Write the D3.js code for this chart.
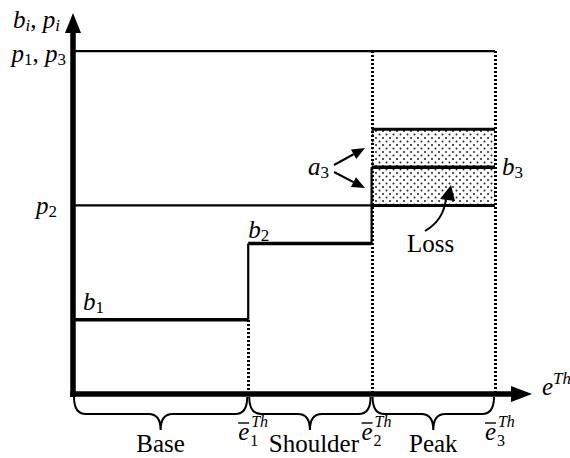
<!DOCTYPE html>
<html>
<head>
<meta charset="utf-8">
<script src="https://cdn.jsdelivr.net/npm/d3@7"></script>
<style>
  html, body { margin: 0; padding: 0; background: #fff; }
  svg { display: block; }
  text { font-family: "Liberation Serif", "Times New Roman", serif; fill: #000; }
</style>
</head>
<body>
<svg id="chart" width="570" height="458"></svg>
<script>
// ---- data ----
const categories = ["Base", "Shoulder", "Peak"];
const thresholds = [1.42, 2.42, 3.42];        // ē1, ē2, ē3 (energy thresholds)
const thresholdNames = ["1", "2", "3"];
const bids = [1.95, 3.95, 5.95];              // b1, b2, b3
const bidNames = ["1", "2", "3"];
const priceHigh = 9.0;                        // p1, p3
const priceMid = 4.95;                        // p2
const lossUpper = 6.95;                       // b3 + a3
const xMax = 3.72;
const yMax = 10;

// ---- scales ----
const svg = d3.select("#chart");
const x = d3.scaleLinear().domain([0, xMax]).range([73, 532]);
const y = d3.scaleLinear().domain([0, yMax]).range([394, 13]);

const F = 25, FS = 17;

// pattern for loss region
const defs = svg.append("defs");
const pat = defs.append("pattern").attr("id", "dots").attr("patternUnits", "userSpaceOnUse")
  .attr("width", 7).attr("height", 7);
pat.append("circle").attr("cx", 1.5).attr("cy", 1.5).attr("r", 1).attr("fill", "#222");
pat.append("circle").attr("cx", 5).attr("cy", 5).attr("r", 1).attr("fill", "#222");

// loss shaded region (peak segment)
const x2 = x(thresholds[1]), x3 = x(thresholds[2]);
svg.append("rect").attr("x", x2).attr("y", y(lossUpper))
  .attr("width", x3 - x2).attr("height", y(priceMid) - y(lossUpper))
  .attr("fill", "url(#dots)");

// dotted verticals
const dotted = (xv, yTop) => svg.append("line")
  .attr("x1", Math.round(x(xv))).attr("x2", Math.round(x(xv))).attr("y1", yTop).attr("y2", y(0))
  .attr("stroke", "#000").attr("stroke-width", 3).attr("stroke-dasharray", "2,2")
  .attr("shape-rendering", "crispEdges");
dotted(thresholds[0], y(bids[0]));
dotted(thresholds[1], y(priceHigh));
dotted(thresholds[2], y(priceHigh));

// price lines
svg.append("line").attr("x1", x(0)).attr("x2", x(thresholds[2]))
  .attr("y1", y(priceHigh)).attr("y2", y(priceHigh)).attr("stroke", "#000").attr("stroke-width", 2.2);
svg.append("line").attr("x1", x(0)).attr("x2", x(thresholds[1]))
  .attr("y1", y(priceMid)).attr("y2", y(priceMid)).attr("stroke", "#000").attr("stroke-width", 2.2);
svg.append("line").attr("x1", x2).attr("x2", x3)
  .attr("y1", y(priceMid)).attr("y2", y(priceMid)).attr("stroke", "#000").attr("stroke-width", 3);
svg.append("line").attr("x1", x2).attr("x2", x3)
  .attr("y1", y(lossUpper)).attr("y2", y(lossUpper)).attr("stroke", "#000").attr("stroke-width", 3);

// bid staircase
const starts = [0, thresholds[0], thresholds[1]];
bids.forEach((b, i) => {
  svg.append("line").attr("x1", x(starts[i])).attr("x2", x(thresholds[i]))
    .attr("y1", y(b)).attr("y2", y(b)).attr("stroke", "#000").attr("stroke-width", 3.5);
  if (i > 0) {
    svg.append("line").attr("x1", x(starts[i])).attr("x2", x(starts[i]))
      .attr("y1", y(bids[i - 1])).attr("y2", y(b)).attr("stroke", "#000").attr("stroke-width", 2.2);
  }
});

// axes with arrows
svg.append("line").attr("x1", x(0)).attr("x2", x(0)).attr("y1", y(0) + 3).attr("y2", y(yMax) + 18)
  .attr("stroke", "#000").attr("stroke-width", 5.5);
svg.append("path").attr("d", `M${x(0)},${y(yMax)} L${x(0) - 8},${y(yMax) + 20} L${x(0) + 8},${y(yMax) + 20} Z`)
  .attr("fill", "#000");
svg.append("line").attr("x1", x(0) - 2.7).attr("x2", x(xMax) - 18).attr("y1", y(0)).attr("y2", y(0))
  .attr("stroke", "#000").attr("stroke-width", 5.5);
svg.append("path").attr("d", `M${x(xMax)},${y(0)} L${x(xMax) - 21},${y(0) - 8} L${x(xMax) - 21},${y(0) + 8} Z`)
  .attr("fill", "#000");

// braces
function bracePath(xa, xb, y0, y1, y2, r) {
  const m = (xa + xb) / 2;
  return `M${xa},${y0} Q${xa},${y1} ${xa + r},${y1} L${m - r},${y1} Q${m},${y1} ${m},${y2} ` +
         `Q${m},${y1} ${m + r},${y1} L${xb - r},${y1} Q${xb},${y1} ${xb},${y0}`;
}
const bounds = [0, ...thresholds];
categories.forEach((c, i) => {
  const xa = x(bounds[i]), xb = x(bounds[i + 1]);
  svg.append("path").attr("d", bracePath(xa + 1, xb - 1, 397, 414, 430, 12))
    .attr("fill", "none").attr("stroke", "#000").attr("stroke-width", 2);
  svg.append("text").attr("x", (xa + xb) / 2 + (i === 1 ? 4 : 0)).attr("y", 452)
    .attr("text-anchor", "middle").attr("font-size", F).text(c);
});

// rich text helper
function rich(xp, yp, parts, anchor) {
  const t = svg.append("text").attr("x", xp).attr("y", yp).attr("font-size", F)
    .attr("text-anchor", anchor || "start");
  let shift = 0;
  parts.forEach(p => {
    const s = t.append("tspan").text(p.t);
    if (p.i) s.attr("font-style", "italic");
    const want = p.sub ? 3 : (p.sup ? -11 : 0);
    if (p.sub || p.sup) s.attr("font-size", FS);
    if (want !== shift) { s.attr("dy", want - shift); shift = want; }
  });
  return t;
}

// y-axis labels
rich(13, 28, [{t: "b", i: 1}, {t: "i", i: 1, sub: 1}, {t: ", "}, {t: "p", i: 1}, {t: "i", i: 1, sub: 1}]);
rich(66, y(priceHigh) + 11, [{t: "p", i: 1}, {t: "1", sub: 1}, {t: ", "}, {t: "p", i: 1}, {t: "3", sub: 1}], "end");
rich(57, y(priceMid) + 9, [{t: "p", i: 1}, {t: "2", sub: 1}], "end");

// bid labels
const bidLabelX = [x(0) + 10, x(thresholds[0]), x(thresholds[2]) + 7];
const bidLabelDy = [-10, -6, 8];
bids.forEach((b, i) => {
  rich(bidLabelX[i], y(b) + bidLabelDy[i], [{t: "b", i: 1}, {t: bidNames[i], sub: 1}]);
});

// a3 label and arrows
rich(308, 175, [{t: "a", i: 1}, {t: "3", sub: 1}]);
function arrow(xa, ya, xb, yb, len, wid) {
  const ang = Math.atan2(yb - ya, xb - xa);
  const bx = xb - len * Math.cos(ang), by = yb - len * Math.sin(ang);
  svg.append("line").attr("x1", xa).attr("y1", ya).attr("x2", bx).attr("y2", by)
    .attr("stroke", "#000").attr("stroke-width", 2);
  const px = -Math.sin(ang) * wid / 2, py = Math.cos(ang) * wid / 2;
  svg.append("path").attr("d", `M${xb},${yb} L${bx + px},${by + py} L${bx - px},${by - py} Z`).attr("fill", "#000");
}
arrow(334, 165, 365, 148, 13, 11);
arrow(334, 172, 365, 188, 13, 11);

// Loss label and curved arrow
svg.append("text").attr("x", 407).attr("y", 252).attr("font-size", F).text("Loss");
svg.append("path").attr("d", "M425,231 Q444,220 446,198").attr("fill", "none")
  .attr("stroke", "#000").attr("stroke-width", 2);
svg.append("path").attr("d", "M451,185 L440,199 L455,201 Z").attr("fill", "#000");

// x-axis label
rich(542, 395, [{t: "e", i: 1}, {t: "Th", i: 1, sup: 1}]);

// threshold labels ē_i^Th
thresholds.forEach((tv, i) => {
  const ex = x(tv) - 10, ey = 440;
  svg.append("text").attr("x", ex).attr("y", ey).attr("font-size", F).attr("font-style", "italic").text("e");
  svg.append("line").attr("x1", ex).attr("x2", ex + 11).attr("y1", ey - 17).attr("y2", ey - 17)
    .attr("stroke", "#000").attr("stroke-width", 1.4);
  svg.append("text").attr("x", ex + 12).attr("y", ey + 6).attr("font-size", 16).text(thresholdNames[i]);
  svg.append("text").attr("x", ex + 13).attr("y", ey - 13).attr("font-size", 16).attr("font-style", "italic").text("Th");
});
</script>
</body>
</html>
